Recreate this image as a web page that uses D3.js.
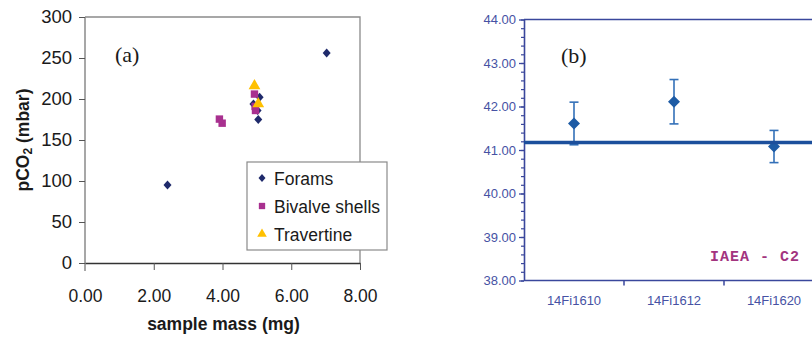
<!DOCTYPE html>
<html>
<head>
<meta charset="utf-8">
<script src="https://cdn.jsdelivr.net/npm/d3@7"></script>
<style>
  html, body { margin: 0; padding: 0; background: #fff; }
  svg { display: block; }
</style>
</head>
<body>
<svg id="chart" width="812" height="338"></svg>
<script>
// ---------- Data: panel (a) ----------
const foramsMass = [2.40, 7.03, 4.90, 5.08, 5.04, 5.02];
const foramsPCO2 = [95, 256, 194, 202, 175, 186];
const bivalveMass = [3.91, 3.99, 4.93, 4.96, 4.95];
const bivalvePCO2 = [175.5, 170.5, 206, 186, 191];
const travertineMass = [4.93, 5.04];
const travertinePCO2 = [216, 194];
const massTicks = [0, 2, 4, 6, 8];
const pco2Ticks = [0, 50, 100, 150, 200, 250, 300];
const legendLabels = ["Forams", "Bivalve shells", "Travertine"];

// ---------- Data: panel (b) ----------
const sampleNames = ["14Fi1610", "14Fi1612", "14Fi1620"];
const sampleValues = [41.61, 42.11, 41.08];
const sampleErrors = [0.49, 0.51, 0.37];
const referenceValue = 41.17;
const refTicks = [38, 39, 40, 41, 42, 43, 44];
const refMinorTicks = d3.range(38, 44.001, 0.2);
const referenceLabel = "IAEA - C2";

const svg = d3.select("#chart");
svg.append("rect").attr("width", 812).attr("height", 338).attr("fill", "#fff");

// custom diamond symbol (width w, height h)
const diamondPath = (w, h) => {
  const p = d3.path();
  p.moveTo(0, -h / 2); p.lineTo(w / 2, 0); p.lineTo(0, h / 2); p.lineTo(-w / 2, 0); p.closePath();
  return p.toString();
};

// ================= Panel (a) =================
const A = { left: 85, right: 360, top: 17, bottom: 263 };
const xA = d3.scaleLinear().domain([0, 8]).range([A.left, A.right]);
const yA = d3.scaleLinear().domain([0, 300]).range([A.bottom, A.top]);
const gA = svg.append("g");

// frame (top/right borders)
gA.append("path")
  .attr("d", `M${xA(0)},${yA(300)}H${xA(8)}V${yA(0)}`)
  .attr("fill", "none").attr("stroke", "#8a8a8a").attr("stroke-width", 1.3);

const yAxisA = gA.append("g").attr("transform", `translate(${A.left},0)`)
  .call(d3.axisLeft(yA).tickValues(pco2Ticks).tickSize(6).tickPadding(7).tickSizeOuter(0));
yAxisA.select(".domain").attr("stroke", "#8a8a8a").attr("stroke-width", 1.5)
  .attr("d", `M0,${yA(300)}V${yA(0) + 8}`);
yAxisA.selectAll(".tick line").attr("stroke", "#555");
yAxisA.selectAll("text").attr("font-family", "Arial, 'Liberation Sans', sans-serif")
  .attr("font-size", 18.5).attr("fill", "#1a1a1a");

const xAxisA = gA.append("g").attr("transform", `translate(0,${A.bottom})`)
  .call(d3.axisBottom(xA).tickValues(massTicks).tickFormat(d3.format(".2f")).tickSize(7).tickPadding(20).tickSizeOuter(0));
xAxisA.select(".domain").attr("stroke", "#333").attr("stroke-width", 1.3);
xAxisA.selectAll(".tick line").attr("stroke", "#555");
xAxisA.selectAll(".tick").filter(d => d === 0).select("line").remove();
xAxisA.selectAll("text").attr("font-family", "Arial, 'Liberation Sans', sans-serif")
  .attr("font-size", 17.5).attr("fill", "#1a1a1a");

// axis titles
gA.append("text").attr("x", (A.left + A.right) / 2 + 1).attr("y", 330)
  .attr("text-anchor", "middle").attr("font-family", "Arial, 'Liberation Sans', sans-serif")
  .attr("font-weight", "bold").attr("font-size", 17.5).attr("fill", "#1a1a1a")
  .text("sample mass (mg)");
const yt = gA.append("text").attr("transform", "translate(29,140) rotate(-90)")
  .attr("text-anchor", "middle").attr("font-family", "Arial, 'Liberation Sans', sans-serif")
  .attr("font-weight", "bold").attr("font-size", 17.5).attr("fill", "#1a1a1a");
yt.append("tspan").text("pCO");
yt.append("tspan").attr("font-size", 12).attr("dy", 3).text("2");
yt.append("tspan").attr("dy", -3).text(" (mbar)");

gA.append("text").attr("x", 115).attr("y", 62)
  .attr("font-family", "'Liberation Serif', 'Times New Roman', serif")
  .attr("font-size", 22).attr("fill", "#1a1a1a").text("(a)");

// markers
const foramsColor = "#1f2a6b", bivalveColor = "#a8308f", travColor = "#ffc000";
const square = d3.symbol().type(d3.symbolSquare).size(55);
const triangle = d3.symbol().type(d3.symbolTriangle).size(60);

gA.selectAll(".forams").data(foramsMass).join("path").attr("class", "forams")
  .attr("transform", (d, i) => `translate(${xA(d)},${yA(foramsPCO2[i])})`)
  .attr("d", diamondPath(8, 9)).attr("fill", foramsColor);
gA.selectAll(".bivalve").data(bivalveMass).join("path").attr("class", "bivalve")
  .attr("transform", (d, i) => `translate(${xA(d)},${yA(bivalvePCO2[i])})`)
  .attr("d", square).attr("fill", bivalveColor);
gA.selectAll(".trav").data(travertineMass).join("path").attr("class", "trav")
  .attr("transform", (d, i) => `translate(${xA(d)},${yA(travertinePCO2[i])})`)
  .attr("d", triangle).attr("fill", travColor);

// legend
const leg = gA.append("g").attr("transform", "translate(247,162)");
leg.append("rect").attr("width", 140).attr("height", 88)
  .attr("fill", "#fff").attr("stroke", "#8a8a8a").attr("stroke-width", 1.2);
const legShapes = [diamondPath(7, 8), d3.symbol().type(d3.symbolSquare).size(40)(), d3.symbol().type(d3.symbolTriangle).size(40)()];
const legCols = [foramsColor, bivalveColor, travColor];
legendLabels.forEach((lab, i) => {
  const cy = 16 + i * 28;
  leg.append("path").attr("transform", `translate(15,${cy})`)
    .attr("d", legShapes[i]).attr("fill", legCols[i]);
  leg.append("text").attr("x", 27).attr("y", cy + 6.5)
    .attr("font-family", "Arial, 'Liberation Sans', sans-serif")
    .attr("font-size", 17.5).attr("fill", "#1a1a1a").text(lab);
});

// ================= Panel (b) =================
const B = { left: 524, right: 824, top: 19.5, bottom: 280.5 };
const xB = d3.scaleBand().domain(sampleNames).range([B.left, B.right]);
const yB = d3.scaleLinear().domain([38, 44]).range([B.bottom, B.top]);
const gB = svg.append("g");
const axisCol = "#3a479c", labelCol = "#4652a4";
const markCol = "#1d5ba5", errCol = "#3370b8", lineCol = "#1c4f9c";

// top border
gB.append("line").attr("x1", B.left).attr("x2", 812).attr("y1", yB(44)).attr("y2", yB(44))
  .attr("stroke", axisCol).attr("stroke-width", 1.5);

// minor ticks
const yMinor = gB.append("g").attr("transform", `translate(${B.left},0)`)
  .call(d3.axisLeft(yB).tickValues(refMinorTicks).tickSize(3).tickFormat(""));
yMinor.select(".domain").remove();
yMinor.selectAll("line").attr("stroke", axisCol).attr("stroke-width", 1.2);

const yAxisB = gB.append("g").attr("transform", `translate(${B.left},0)`)
  .call(d3.axisLeft(yB).tickValues(refTicks).tickFormat(d3.format(".2f")).tickSize(5).tickPadding(3).tickSizeOuter(0));
yAxisB.select(".domain").attr("stroke", axisCol).attr("stroke-width", 1.6);
yAxisB.selectAll(".tick line").attr("stroke", axisCol).attr("stroke-width", 1.3);
yAxisB.selectAll("text").attr("font-family", "Arial, 'Liberation Sans', sans-serif")
  .attr("font-size", 13).attr("fill", labelCol);

const xAxisB = gB.append("g").attr("transform", `translate(0,${B.bottom})`)
  .call(d3.axisBottom(xB).tickSize(0).tickPadding(15));
xAxisB.select(".domain").attr("stroke", axisCol).attr("stroke-width", 1.6)
  .attr("d", `M${B.left},0H812`);
xAxisB.selectAll("text").attr("font-family", "Arial, 'Liberation Sans', sans-serif")
  .attr("font-size", 13).attr("fill", labelCol);
// category boundary ticks
gB.selectAll(".bt").data(sampleNames.slice(1)).join("line").attr("class", "bt")
  .attr("x1", d => xB(d)).attr("x2", d => xB(d))
  .attr("y1", B.bottom).attr("y2", B.bottom + 5)
  .attr("stroke", axisCol).attr("stroke-width", 1.5);

gB.append("text").attr("x", 561).attr("y", 63)
  .attr("font-family", "'Liberation Serif', 'Times New Roman', serif")
  .attr("font-size", 22).attr("fill", "#1a1a1a").text("(b)");

gB.append("text").attr("x", 710).attr("y", 261)
  .attr("font-family", "'Liberation Mono', 'Courier New', monospace")
  .attr("font-size", 15).attr("letter-spacing", 1).attr("font-weight", "bold")
  .attr("fill", "#a3347f").text(referenceLabel);

// error bars
const cx = d => xB(d) + xB.bandwidth() / 2;
const eb = gB.selectAll(".eb").data(sampleNames).join("g").attr("class", "eb")
  .attr("stroke", errCol).attr("stroke-width", 1.6);
eb.append("line").attr("x1", cx).attr("x2", cx)
  .attr("y1", (d, i) => yB(sampleValues[i] + sampleErrors[i]))
  .attr("y2", (d, i) => yB(sampleValues[i] - sampleErrors[i]));
eb.append("line").attr("x1", d => cx(d) - 4.5).attr("x2", d => cx(d) + 4.5)
  .attr("y1", (d, i) => yB(sampleValues[i] + sampleErrors[i]))
  .attr("y2", (d, i) => yB(sampleValues[i] + sampleErrors[i]));
eb.append("line").attr("x1", d => cx(d) - 4.5).attr("x2", d => cx(d) + 4.5)
  .attr("y1", (d, i) => yB(sampleValues[i] - sampleErrors[i]))
  .attr("y2", (d, i) => yB(sampleValues[i] - sampleErrors[i]));

// points
gB.selectAll(".pt").data(sampleNames).join("path").attr("class", "pt")
  .attr("transform", (d, i) => `translate(${cx(d)},${yB(sampleValues[i])})`)
  .attr("d", diamondPath(12, 12)).attr("fill", markCol);

// reference line
gB.append("line").attr("x1", B.left).attr("x2", 812)
  .attr("y1", yB(referenceValue)).attr("y2", yB(referenceValue))
  .attr("stroke", lineCol).attr("stroke-width", 3.5);
</script>
</body>
</html>
